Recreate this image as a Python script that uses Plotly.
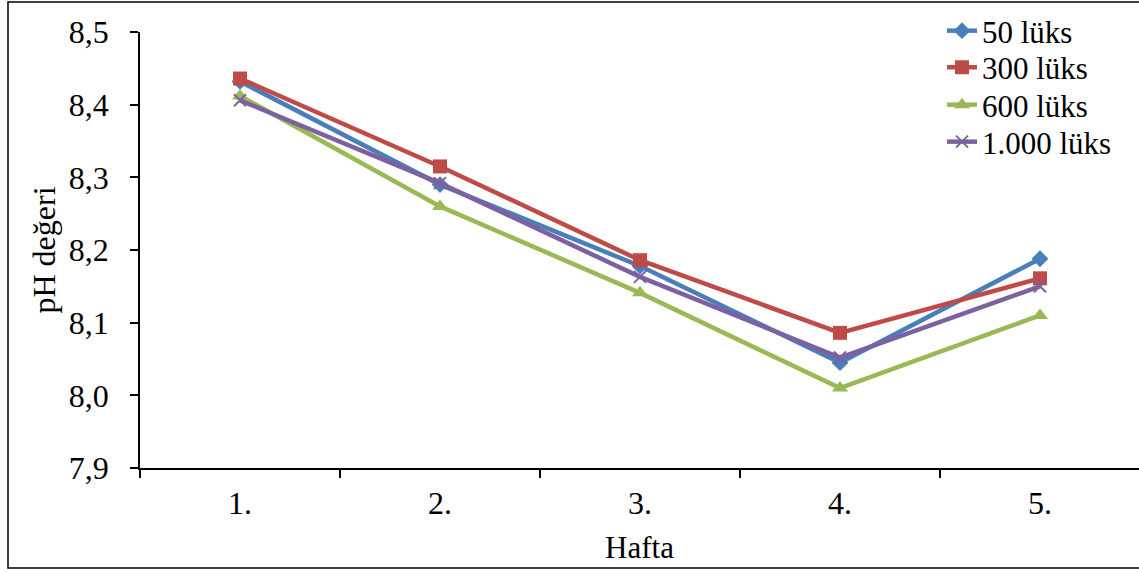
import plotly.graph_objects as go

# Weekly pH readings under four light intensities
weeks = ["1.", "2.", "3.", "4.", "5."]
lux_50 = [8.432, 8.290, 8.178, 8.045, 8.188]
lux_300 = [8.436, 8.315, 8.186, 8.086, 8.161]
lux_600 = [8.412, 8.260, 8.141, 8.010, 8.110]
lux_1000 = [8.406, 8.292, 8.163, 8.052, 8.150]
series_names = ["50 lüks", "300 lüks", "600 lüks", "1.000 lüks"]

FONT = "Liberation Serif"
W, H = 1139, 572
L, R, T, B = 140, 0, 32, 104
pw = W - L - R
ph = H - T - B

styles = [
    dict(color="#4A7EBB", symbol="diamond", size=13, line=dict(width=0)),
    dict(color="#BE4B48", symbol="square", size=14, line=dict(width=0)),
    dict(color="#98B954", symbol="triangle-up", size=14, line=dict(width=0)),
    dict(color="#7D60A0", symbol="x-thin", size=12, line=dict(width=2, color="#7D60A0")),
]

# one legend per series so the rows sit at the chart's own spacing
legend_rows_px = [31, 67.5, 105, 142]

fig = go.Figure()
layout_legends = {}
for i, (name, vals, st) in enumerate(zip(series_names, [lux_50, lux_300, lux_600, lux_1000], styles)):
    key = "legend" if i == 0 else f"legend{i + 1}"
    fig.add_trace(go.Scatter(
        x=weeks, y=vals, name=name, mode="lines+markers",
        line=dict(color=st["color"], width=4.5),
        marker=st, legend=key,
    ))
    layout_legends[key] = dict(
        x=(942 - L) / pw, y=((H - B) - legend_rows_px[i]) / ph,
        xanchor="left", yanchor="middle",
        bgcolor="rgba(0,0,0,0)", borderwidth=0,
        font=dict(family=FONT, size=31, color="black"),
    )

fig.add_shape(
    type="rect", xref="paper", yref="paper",
    x0=(8 - L) / pw, x1=(W + 6 - L) / pw,
    y0=-(568 - (H - B)) / ph, y1=((H - B) - 2) / ph,
    line=dict(color="black", width=1.5), fillcolor="rgba(0,0,0,0)", layer="below",
)

fig.update_layout(
    width=W, height=H,
    margin=dict(l=L, r=R, t=T, b=B, pad=0),
    paper_bgcolor="white", plot_bgcolor="white",
    separators=",.",
    font=dict(family=FONT, size=32, color="black"),
    showlegend=True,
    xaxis=dict(
        type="category", range=[-0.5, 4.495],
        showline=True, linecolor="black", linewidth=1.5,
        ticks="outside", ticklen=8, tickwidth=1.5, tickcolor="black",
        tickson="boundaries", showgrid=False, zeroline=False,
        ticklabelstandoff=6,
        tickfont=dict(family=FONT, size=32),
        title=dict(text="Hafta", standoff=16, font=dict(family=FONT, size=31)),
    ),
    yaxis=dict(
        range=[7.9, 8.5], dtick=0.1, tickformat=".1f",
        showline=True, linecolor="black", linewidth=1.5,
        ticks="outside", ticklen=8, tickwidth=1.5, tickcolor="black",
        showgrid=False, zeroline=False,
        ticklabelstandoff=15,
        tickfont=dict(family=FONT, size=32),
        title=dict(text="pH değeri", standoff=4, font=dict(family=FONT, size=32)),
    ),
    **layout_legends,
)

fig.write_html("out.html")
